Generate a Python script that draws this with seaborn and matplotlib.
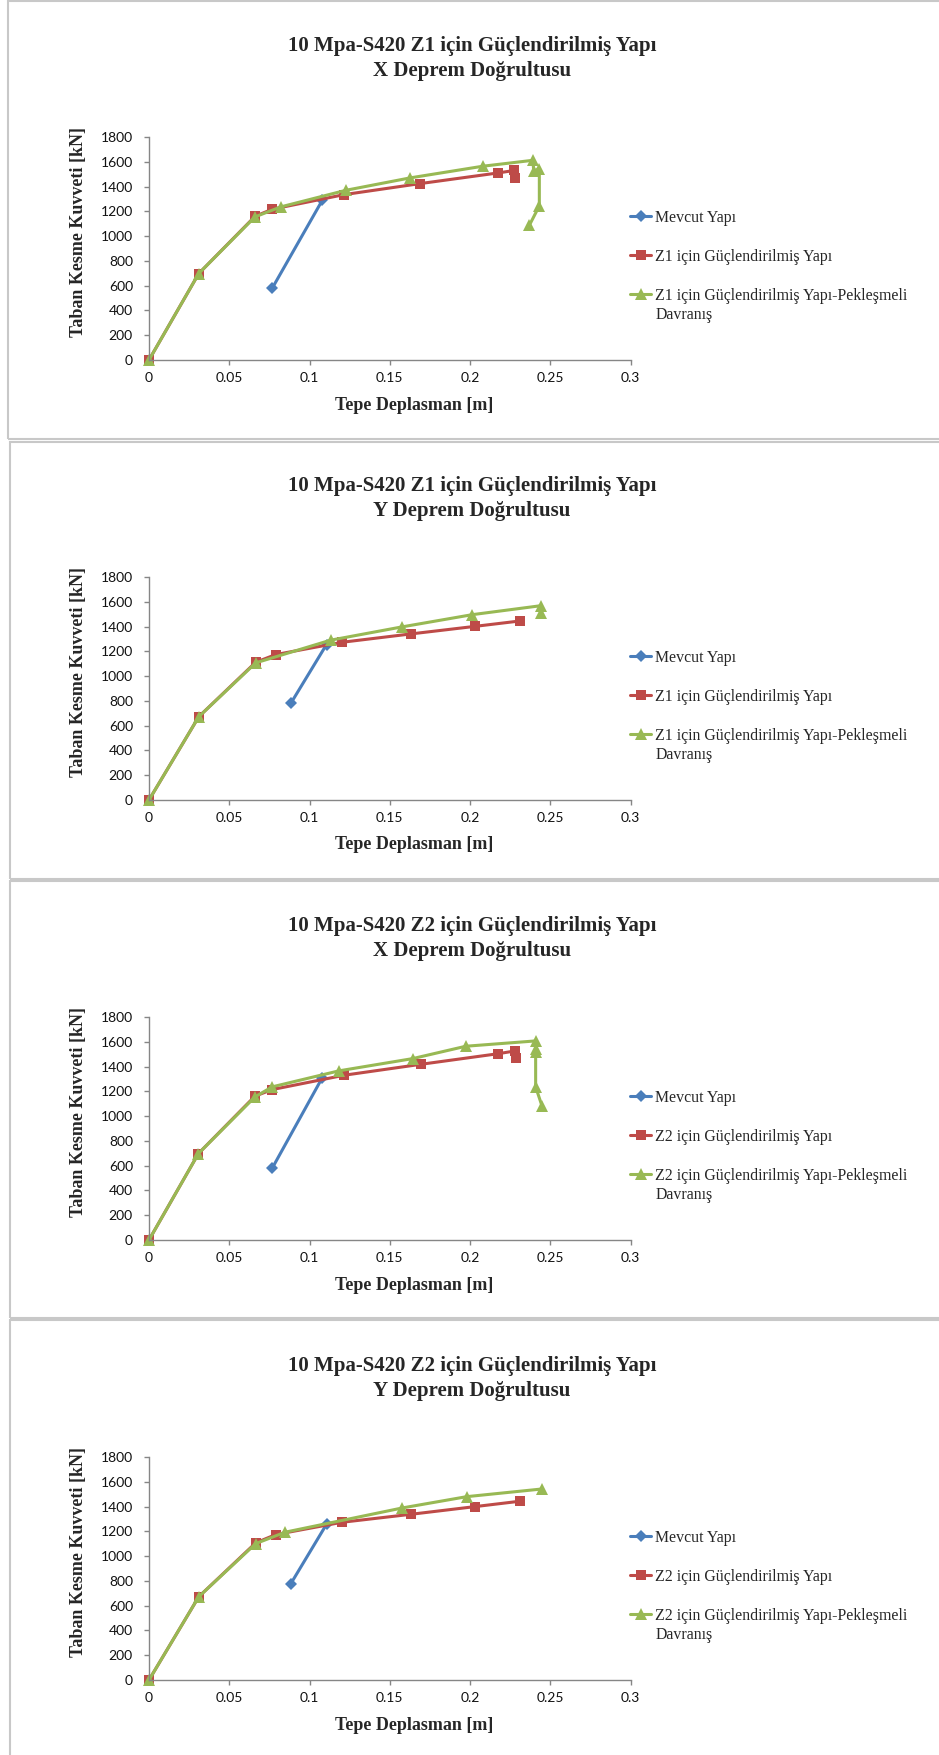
import matplotlib
matplotlib.use("Agg")
import matplotlib.pyplot as plt
import seaborn as sns
from matplotlib.patches import Rectangle

sns.set_style("white")
plt.rcParams['font.family'] = ['Lato', 'DejaVu Sans']

SERIF = ['Liberation Serif', 'DejaVu Serif']

# ---- data ----
titles = [
    "10 Mpa-S420 Z1 için Güçlendirilmiş Yapı\nX Deprem Doğrultusu",
    "10 Mpa-S420 Z1 için Güçlendirilmiş Yapı\nY Deprem Doğrultusu",
    "10 Mpa-S420 Z2 için Güçlendirilmiş Yapı\nX Deprem Doğrultusu",
    "10 Mpa-S420 Z2 için Güçlendirilmiş Yapı\nY Deprem Doğrultusu",
]
zones = ["Z1", "Z1", "Z2", "Z2"]

# panel 1: Z1, X direction
p1_mevcut_x = [0.0768, 0.108]
p1_mevcut_y = [580, 1290]
p1_guc_x = [0.0, 0.031, 0.0661, 0.0768, 0.1216, 0.169, 0.2175, 0.2277, 0.228]
p1_guc_y = [0, 698, 1160, 1217, 1335, 1424, 1510, 1530, 1472]
p1_pek_x = [0.0, 0.031, 0.066, 0.0821, 0.1227, 0.1627, 0.2079, 0.2392, 0.2397, 0.2432, 0.2432, 0.237]
p1_pek_y = [0, 698, 1155, 1236, 1370, 1470, 1564, 1612, 1523, 1545, 1244, 1088]

# panel 2: Z1, Y direction
p2_mevcut_x = [0.0883, 0.1106]
p2_mevcut_y = [779, 1255]
p2_guc_x = [0.0, 0.031, 0.0665, 0.079, 0.1202, 0.1635, 0.2034, 0.2311]
p2_guc_y = [0, 672, 1112, 1174, 1273, 1341, 1402, 1445]
p2_pek_x = [0.0, 0.031, 0.0665, 0.1131, 0.1575, 0.2014, 0.2445, 0.2445]
p2_pek_y = [0, 672, 1107, 1290, 1397, 1496, 1569, 1510]

# panel 3: Z2, X direction
p3_mevcut_x = [0.0767, 0.108]
p3_mevcut_y = [578, 1311]
p3_guc_x = [0.0, 0.0308, 0.066, 0.0767, 0.1216, 0.1693, 0.2177, 0.228, 0.2284]
p3_guc_y = [0, 698, 1161, 1214, 1330, 1418, 1504, 1526, 1472]
p3_pek_x = [0.0, 0.0308, 0.066, 0.0767, 0.1182, 0.1642, 0.1974, 0.2409, 0.2409, 0.2409, 0.2409, 0.2449]
p3_pek_y = [0, 698, 1155, 1236, 1365, 1464, 1564, 1607, 1545, 1518, 1236, 1080]

# panel 4: Z2, Y direction
p4_mevcut_x = [0.0883, 0.1106]
p4_mevcut_y = [776, 1257]
p4_guc_x = [0.0, 0.031, 0.0665, 0.079, 0.1202, 0.1635, 0.2034, 0.2311]
p4_guc_y = [0, 672, 1107, 1174, 1273, 1338, 1400, 1443]
p4_pek_x = [0.0, 0.031, 0.0665, 0.0848, 0.1579, 0.198, 0.2449]
p4_pek_y = [0, 672, 1101, 1193, 1389, 1480, 1542]

panels = [
    (p1_mevcut_x, p1_mevcut_y, p1_guc_x, p1_guc_y, p1_pek_x, p1_pek_y),
    (p2_mevcut_x, p2_mevcut_y, p2_guc_x, p2_guc_y, p2_pek_x, p2_pek_y),
    (p3_mevcut_x, p3_mevcut_y, p3_guc_x, p3_guc_y, p3_pek_x, p3_pek_y),
    (p4_mevcut_x, p4_mevcut_y, p4_guc_x, p4_guc_y, p4_pek_x, p4_pek_y),
]

x_ticks = [0, 0.05, 0.1, 0.15, 0.2, 0.25, 0.3]
x_tick_labels = ["0", "0.05", "0.1", "0.15", "0.2", "0.25", "0.3"]
y_ticks = [0, 200, 400, 600, 800, 1000, 1200, 1400, 1600, 1800]

x_label = "Tepe Deplasman [m]"
y_label = "Taban Kesme Kuvveti [kN]"

BLUE = "#4A7EBB"
RED = "#BE4B48"
GREEN = "#98B954"
AXIS = "#868686"

W, H = 939, 1755
fig = plt.figure(figsize=(W / 100, H / 100), dpi=100)
fig.patch.set_facecolor("white")

# panel frames
frames = [(8, 1, 439), (10, 442, 879), (10, 881, 1318), (10, 1320, 1760)]
for left, top, bottom in frames:
    fig.add_artist(Rectangle((left / W, 1 - bottom / H), (W + 5 - left) / W, (bottom - top) / H,
                             transform=fig.transFigure, fill=False,
                             edgecolor="#c8c8c8", linewidth=1.5))

legends = []
for k, (mx, my, gx, gy, px, py) in enumerate(panels):
    off = 440 * k
    ax = fig.add_axes([149 / W, 1 - (360 + off) / H, 481.5 / W, 223 / H])

    sns.lineplot(x=mx, y=my, ax=ax, color=BLUE, marker="D", markersize=6.2,
                 markeredgewidth=0, linewidth=2.2, estimator=None, sort=False,
                 clip_on=False, label="Mevcut Yapı")
    sns.lineplot(x=gx, y=gy, ax=ax, color=RED, marker="s", markersize=7.5,
                 markeredgewidth=0, linewidth=2.2, estimator=None, sort=False,
                 clip_on=False, label=f"{zones[k]} için Güçlendirilmiş Yapı")
    sns.lineplot(x=px, y=py, ax=ax, color=GREEN, marker="^", markersize=8,
                 markeredgewidth=0, linewidth=2.2, estimator=None, sort=False,
                 clip_on=False, label=f"{zones[k]} için Güçlendirilmiş Yapı-Pekleşmeli")

    ax.set_xlim(0, 0.3)
    ax.set_ylim(0, 1800)
    ax.set_xticks(x_ticks)
    ax.set_xticklabels(x_tick_labels)
    ax.set_yticks(y_ticks)
    ax.set_xlabel("")
    ax.set_ylabel("")
    for s in ["top", "right"]:
        ax.spines[s].set_visible(False)
    for s in ["left", "bottom"]:
        ax.spines[s].set_color(AXIS)
        ax.spines[s].set_linewidth(1)
    ax.tick_params(axis="both", bottom=True, left=True, direction="out", length=3.6,
                   width=1, color=AXIS, labelsize=10, labelcolor="#111111")
    ax.tick_params(axis="y", pad=8)
    ax.tick_params(axis="x", pad=5)

    handles, labels = ax.get_legend_handles_labels()
    leg = ax.legend(handles, labels, loc="upper left",
                    bbox_to_anchor=(630 / W, 1 - (210 + off) / H),
                    bbox_transform=fig.transFigure, frameon=False,
                    borderaxespad=0, borderpad=0, handlelength=1.35,
                    handletextpad=0.25, labelspacing=1.45,
                    prop={"family": SERIF, "size": 11.4})
    legends.append(leg)

    fig.text(472 / W, 1 - (58.5 + off) / H, titles[k], ha="center", va="center",
             fontsize=15, fontweight="bold", family=SERIF, linespacing=1.3)
    fig.text(414 / W, 1 - (405 + off) / H, x_label, ha="center", va="center",
             fontsize=13, fontweight="bold", family=SERIF)
    fig.text(78 / W, 1 - (232 + off) / H, y_label, ha="center", va="center",
             rotation=90, fontsize=13, fontweight="bold", family=SERIF)

# second line of the third legend entry sits under the first line, handle stays on line one
fig.canvas.draw()
renderer = fig.canvas.get_renderer()
for leg in legends:
    bb = leg.get_texts()[2].get_window_extent(renderer)
    fig.text(bb.x0 / W, (bb.y0 - 3) / H, "Davranış", ha="left", va="top",
             fontsize=11.4, family=SERIF)

fig.savefig("out.png", dpi=100, facecolor="white")
